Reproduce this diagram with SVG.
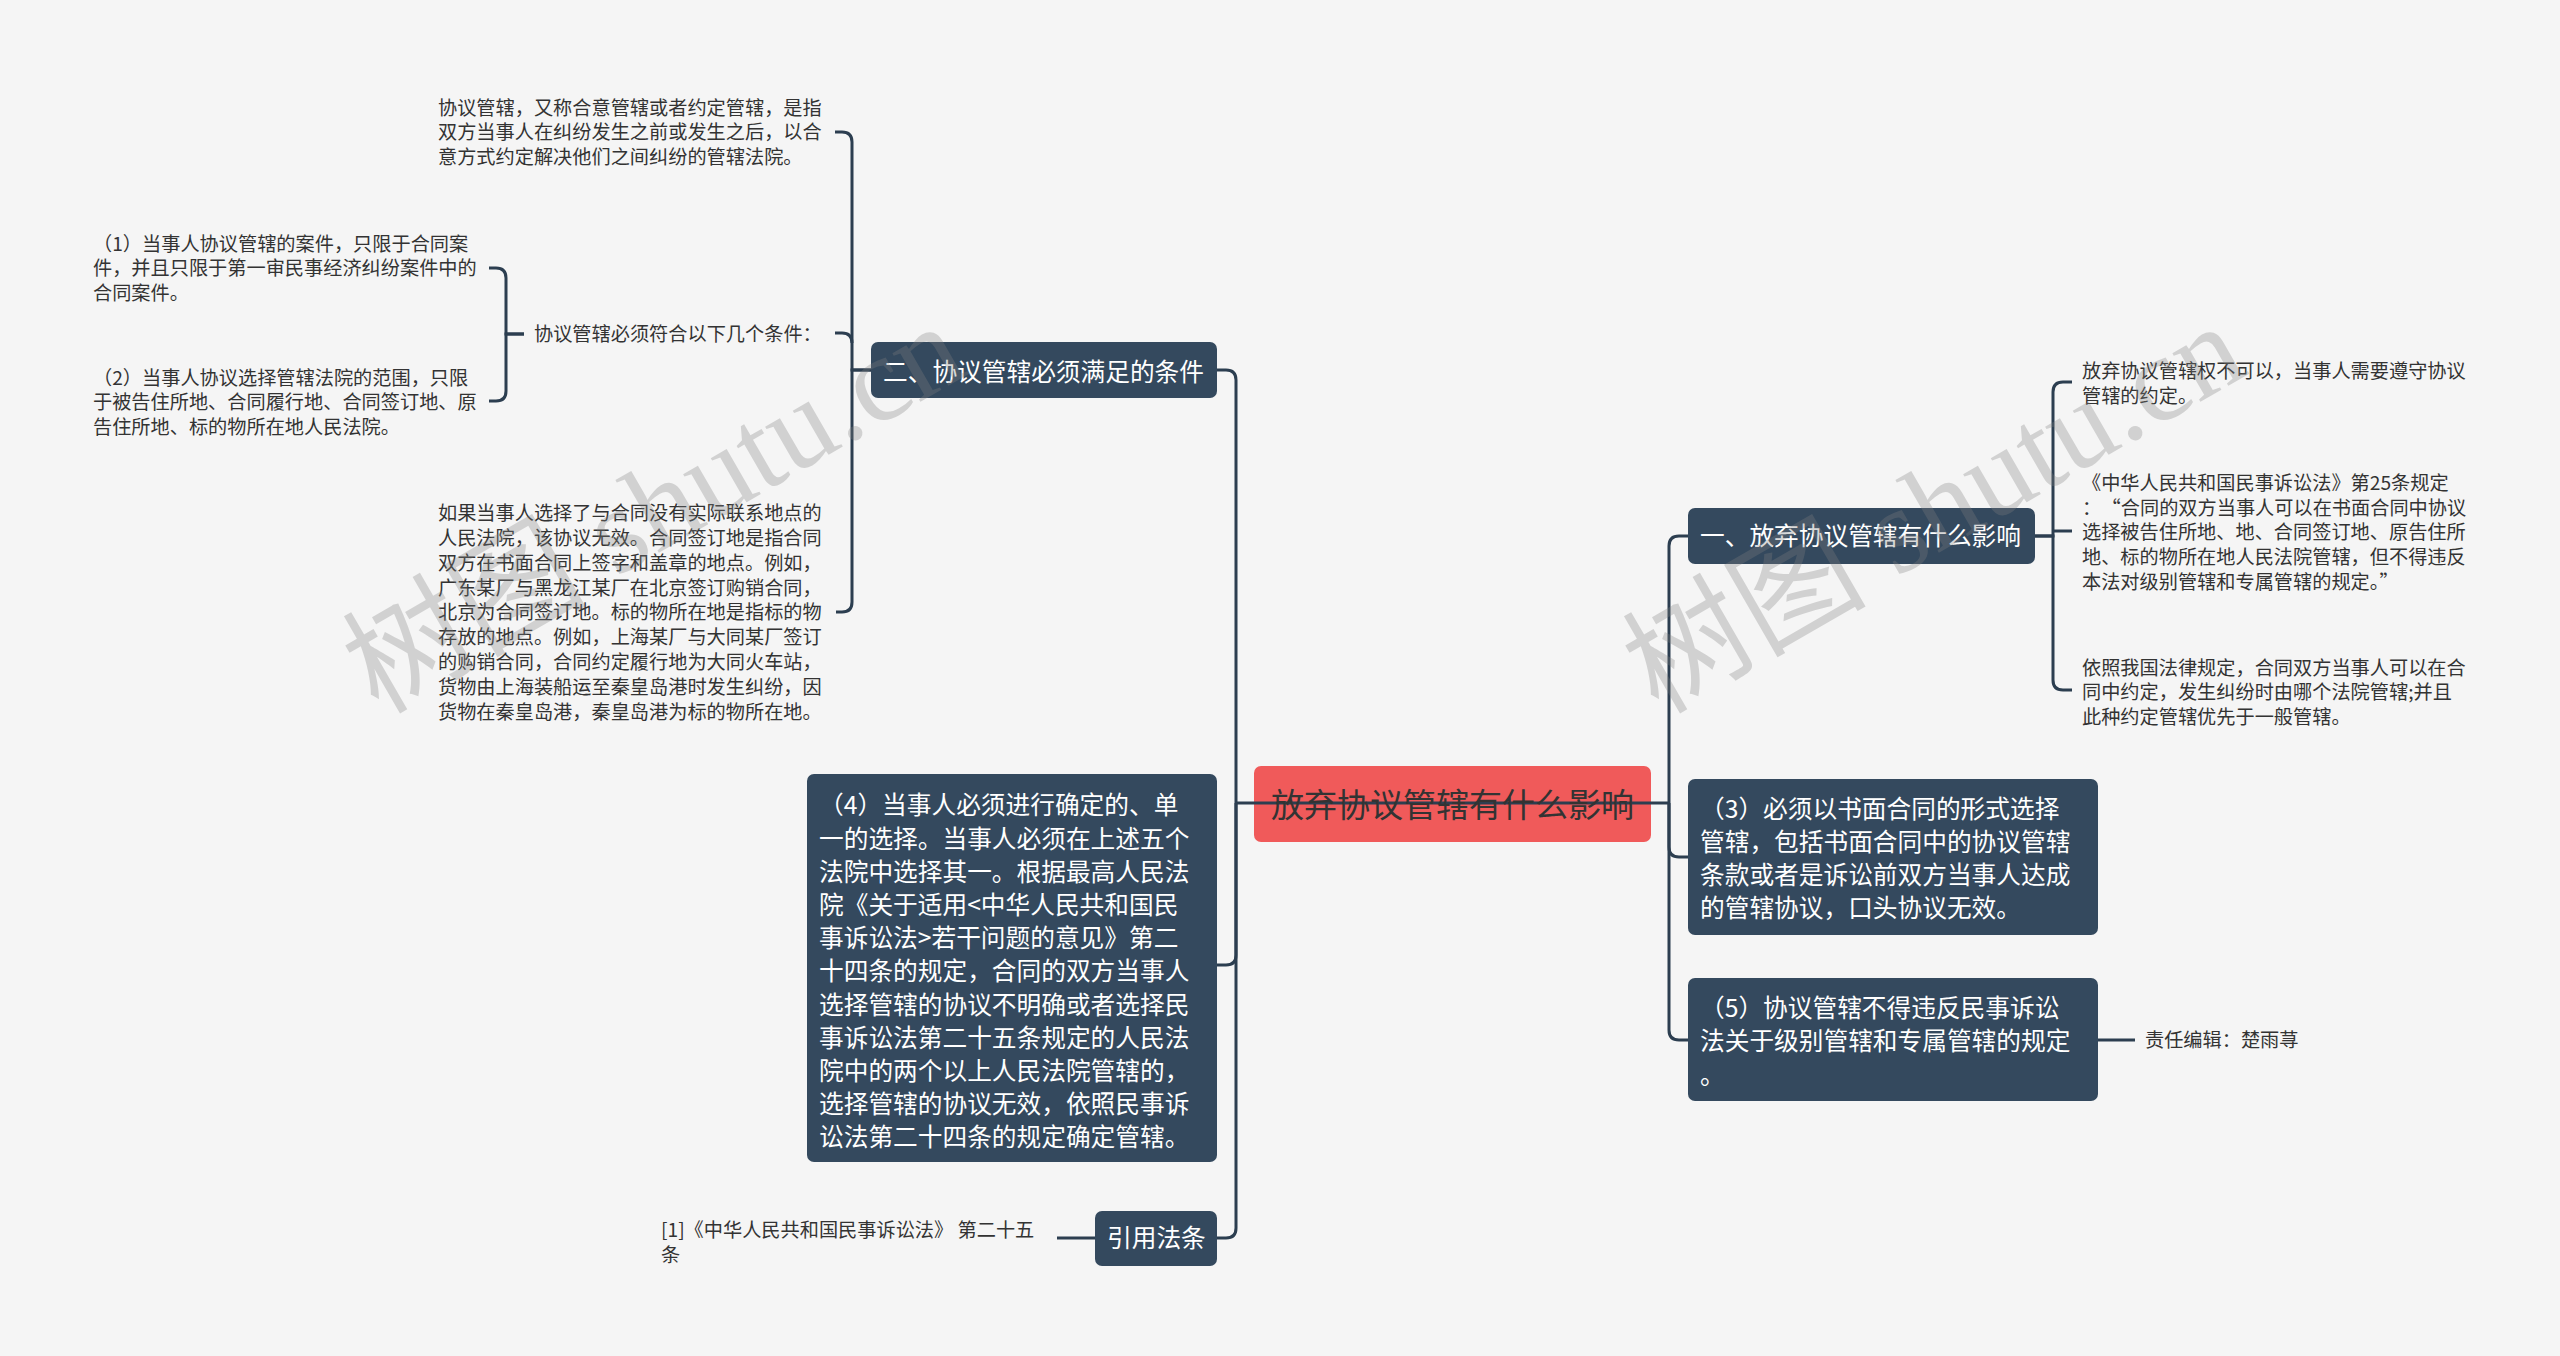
<svg xmlns="http://www.w3.org/2000/svg" width="2560" height="1356" viewBox="0 0 2560 1356">
<style>
.bg{fill:#f5f5f5}
.box{fill:#34495e}
.center{fill:#f05a5a}
.t{font-family:"Noto Sans CJK SC","Noto Sans",sans-serif;font-size:19.2px;fill:#333}
.n{font-family:"Noto Sans CJK SC","Noto Sans",sans-serif;font-size:24.7px;fill:#fff}
.c{font-family:"Noto Sans CJK SC","Noto Sans",sans-serif;font-size:33px;fill:#333}
.ln{fill:none;stroke:#2c3e50;stroke-width:3}
.wm{font-family:"Liberation Serif","Noto Sans CJK SC",serif;font-size:122px;fill:#808080;opacity:0.3}
</style>
<rect class="bg" x="0" y="0" width="2560" height="1356"/>

<g id="node-center">
<rect class="center" x="1254" y="766" width="397" height="76" rx="7"/>
</g>

<g id="connectors">
<path class="ln" d="M1236 803 H1669"/>
<path class="ln" d="M1236 803 V380 Q1236 370 1226 370 H1217"/>
<path class="ln" d="M1236 803 V955 Q1236 965 1226 965 H1217"/>
<path class="ln" d="M1236 803 V1228 Q1236 1238 1226 1238 H1217"/>
<path class="ln" d="M1669 803 V546 Q1669 536 1679 536 H1688"/>
<path class="ln" d="M1669 803 V847 Q1669 857 1679 857 H1688"/>
<path class="ln" d="M1669 803 V1030 Q1669 1040 1679 1040 H1688"/>
<path class="ln" d="M871 370 H852 V142 Q852 132 842 132 H835"/>
<path class="ln" d="M852 343 Q852 333 842 333 H835"/>
<path class="ln" d="M871 370 H852 V602 Q852 612 842 612 H836"/>
<path class="ln" d="M524 334 H506 V278 Q506 268 496 268 H489"/>
<path class="ln" d="M524 334 H506 V391 Q506 401 496 401 H489"/>
<path class="ln" d="M2035 536 H2053 V392 Q2053 382 2063 382 H2072"/>
<path class="ln" d="M2053 531 H2072"/>
<path class="ln" d="M2035 536 H2053 V680 Q2053 690 2063 690 H2072"/>
<path class="ln" d="M2098 1040 H2135"/>
<path class="ln" d="M1095 1238 H1057"/>
</g>

<g id="node-center-label">
<text class="c" x="1452.5" y="816.5" text-anchor="middle">放弃协议管辖有什么影响</text>
</g>

<g id="node-er">
<rect class="box" x="871" y="342" width="346" height="56" rx="7"/>
<text class="n" x="883" y="380.5">二、协议管辖必须满足的条件</text>
</g>

<g id="node-4">
<rect class="box" x="807" y="774" width="410" height="388" rx="7"/>
<text class="n" x="819">
<tspan x="819" y="814.4">（4）当事人必须进行确定的、单</tspan>
<tspan x="819" y="847.6">一的选择。当事人必须在上述五个</tspan>
<tspan x="819" y="880.8">法院中选择其一。根据最高人民法</tspan>
<tspan x="819" y="914">院《关于适用&lt;中华人民共和国民</tspan>
<tspan x="819" y="947.2">事诉讼法&gt;若干问题的意见》第二</tspan>
<tspan x="819" y="980.4">十四条的规定，合同的双方当事人</tspan>
<tspan x="819" y="1013.6">选择管辖的协议不明确或者选择民</tspan>
<tspan x="819" y="1046.8">事诉讼法第二十五条规定的人民法</tspan>
<tspan x="819" y="1080">院中的两个以上人民法院管辖的，</tspan>
<tspan x="819" y="1113.2">选择管辖的协议无效，依照民事诉</tspan>
<tspan x="819" y="1146.4">讼法第二十四条的规定确定管辖。</tspan>
</text>
</g>

<g id="node-cite">
<rect class="box" x="1095" y="1211" width="122" height="55" rx="7"/>
<text class="n" x="1107" y="1247.4">引用法条</text>
</g>

<g id="node-yi">
<rect class="box" x="1688" y="508" width="347" height="56" rx="7"/>
<text class="n" x="1700" y="545.4">一、放弃协议管辖有什么影响</text>
</g>

<g id="node-3">
<rect class="box" x="1688" y="779" width="410" height="156" rx="7"/>
<text class="n">
<tspan x="1700" y="817.5">（3）必须以书面合同的形式选择</tspan>
<tspan x="1700" y="850.8">管辖，包括书面合同中的协议管辖</tspan>
<tspan x="1700" y="884.1">条款或者是诉讼前双方当事人达成</tspan>
<tspan x="1700" y="917.4">的管辖协议，口头协议无效。</tspan>
</text>
</g>

<g id="node-5">
<rect class="box" x="1688" y="978" width="410" height="123" rx="7"/>
<text class="n">
<tspan x="1700" y="1017.1">（5）协议管辖不得违反民事诉讼</tspan>
<tspan x="1700" y="1050.4">法关于级别管辖和专属管辖的规定</tspan>
<tspan x="1700" y="1083.7">。</tspan>
</text>
</g>

<g id="leaf-a">
<text class="t">
<tspan x="438" y="114.6">协议管辖，又称合意管辖或者约定管辖，是指</tspan>
<tspan x="438" y="139.4">双方当事人在纠纷发生之前或发生之后，以合</tspan>
<tspan x="438" y="164.2">意方式约定解决他们之间纠纷的管辖法院。</tspan>
</text>
</g>

<g id="leaf-conditions">
<text class="t" x="534" y="341.3">协议管辖必须符合以下几个条件：</text>
</g>

<g id="leaf-1">
<text class="t">
<tspan x="93" y="250.5">（1）当事人协议管辖的案件，只限于合同案</tspan>
<tspan x="93" y="275.3">件，并且只限于第一审民事经济纠纷案件中的</tspan>
<tspan x="93" y="300.1">合同案件。</tspan>
</text>
</g>

<g id="leaf-2">
<text class="t">
<tspan x="93" y="384.5">（2）当事人协议选择管辖法院的范围，只限</tspan>
<tspan x="93" y="409.3">于被告住所地、合同履行地、合同签订地、原</tspan>
<tspan x="93" y="434.1">告住所地、标的物所在地人民法院。</tspan>
</text>
</g>

<g id="leaf-d">
<text class="t">
<tspan x="438" y="520.1">如果当事人选择了与合同没有实际联系地点的</tspan>
<tspan x="438" y="544.9">人民法院，该协议无效。合同签订地是指合同</tspan>
<tspan x="438" y="569.7">双方在书面合同上签字和盖章的地点。例如，</tspan>
<tspan x="438" y="594.5">广东某厂与黑龙江某厂在北京签订购销合同，</tspan>
<tspan x="438" y="619.3">北京为合同签订地。标的物所在地是指标的物</tspan>
<tspan x="438" y="644.1">存放的地点。例如，上海某厂与大同某厂签订</tspan>
<tspan x="438" y="668.9">的购销合同，合同约定履行地为大同火车站，</tspan>
<tspan x="438" y="693.7">货物由上海装船运至秦皇岛港时发生纠纷，因</tspan>
<tspan x="438" y="718.5">货物在秦皇岛港，秦皇岛港为标的物所在地。</tspan>
</text>
</g>

<g id="leaf-cite">
<text class="t">
<tspan x="661" y="1237.3">[1]《中华人民共和国民事诉讼法》 第二十五</tspan>
<tspan x="661" y="1262.1">条</tspan>
</text>
</g>

<g id="leaf-yi-1">
<text class="t">
<tspan x="2082" y="377.9">放弃协议管辖权不可以，当事人需要遵守协议</tspan>
<tspan x="2082" y="402.7">管辖的约定。</tspan>
</text>
</g>

<g id="leaf-yi-2">
<text class="t">
<tspan x="2082" y="489.7">《中华人民共和国民事诉讼法》第25条规定</tspan>
<tspan x="2082" y="514.5">：<tspan dx="10">“合同的双方当事人可以在书面合同中协议</tspan></tspan>
<tspan x="2082" y="539.3">选择被告住所地、地、合同签订地、原告住所</tspan>
<tspan x="2082" y="564.1">地、标的物所在地人民法院管辖，但不得违反</tspan>
<tspan x="2082" y="588.9">本法对级别管辖和专属管辖的规定。”</tspan>
</text>
</g>

<g id="leaf-yi-3">
<text class="t">
<tspan x="2082" y="674.5">依照我国法律规定，合同双方当事人可以在合</tspan>
<tspan x="2082" y="699.3">同中约定，发生纠纷时由哪个法院管辖;并且</tspan>
<tspan x="2082" y="724.1">此种约定管辖优先于一般管辖。</tspan>
</text>
</g>

<g id="leaf-editor">
<text class="t" x="2145" y="1047.3">责任编辑：楚雨荨</text>
</g>

<g id="watermark">
<text class="wm" transform="translate(378,715) rotate(-30)">树图 shutu.cn</text>
<text class="wm" transform="translate(1658,715) rotate(-30)">树图 shutu.cn</text>
</g>
</svg>
